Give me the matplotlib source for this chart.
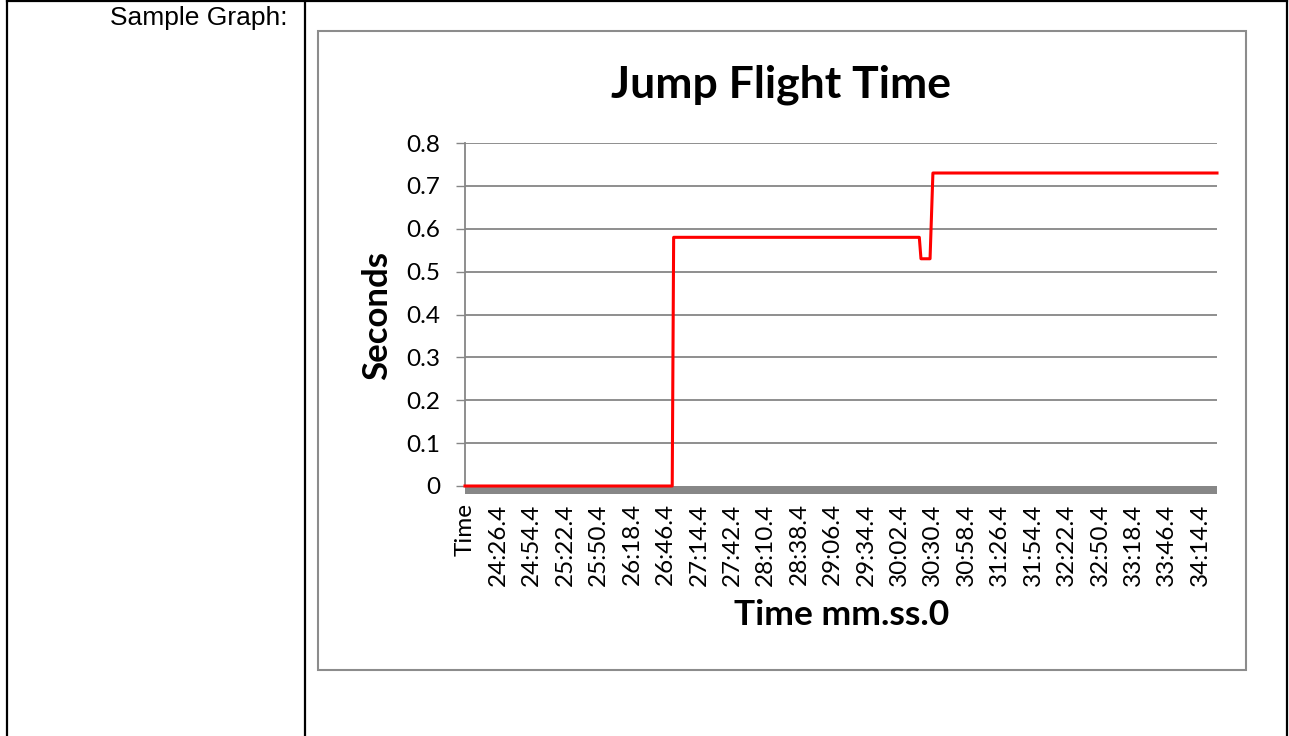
import matplotlib
matplotlib.use("Agg")
import matplotlib.pyplot as plt
from matplotlib.patches import Rectangle
from matplotlib.lines import Line2D

# x axis labels (first one is the header text that ended up as a category)
tick_labels = ["Time", "24:26.4", "24:54.4", "25:22.4", "25:50.4", "26:18.4",
               "26:46.4", "27:14.4", "27:42.4", "28:10.4", "28:38.4", "29:06.4",
               "29:34.4", "30:02.4", "30:30.4", "30:58.4", "31:26.4", "31:54.4",
               "32:22.4", "32:50.4", "33:18.4", "33:46.4", "34:14.4"]
start_time = "23:58.4"
end_time = "34:28.4"

# flight time readings (only the points where the value changes)
step_times = ["23:58.4", "26:52.0", "26:53.2", "30:19.0", "30:20.4",
              "30:28.0", "30:30.4", "34:28.4"]
step_values = [0, 0, 0.58, 0.58, 0.53, 0.53, 0.73, 0.73]

y_ticks = [0, 0.1, 0.2, 0.3, 0.4, 0.5, 0.6, 0.7, 0.8]
y_labels = ["0", "0.1", "0.2", "0.3", "0.4", "0.5", "0.6", "0.7", "0.8"]


def to_sec(s):
    m, sec = s.split(":")
    return int(m) * 60 + float(sec)


t0 = to_sec(start_time)
tick_pos = [0] + [to_sec(l) - t0 for l in tick_labels[1:]]
x = [to_sec(t) - t0 for t in step_times]

W, H = 1289, 736
fig = plt.figure(figsize=(W / 100, H / 100), dpi=100)
fig.patch.set_facecolor("white")

font = ["Lato", "DejaVu Sans"]
grey = "#868686"

# table cell lines of the document around the chart
for xp in [7, 305, 1287]:
    fig.add_artist(Line2D([xp / W, xp / W], [0, 1], color="black", lw=1.6))
fig.add_artist(Line2D([7 / W, 1287 / W], [1 - 1 / H, 1 - 1 / H], color="black", lw=1.6))
fig.text(288 / W, 1 - 18 / H, "Sample Graph:", ha="right", va="center",
         fontsize=19, family=["Liberation Sans", "DejaVu Sans"])

# chart frame
fig.add_artist(Rectangle((318 / W, 1 - 670 / H), 928 / W, 639 / H,
                         transform=fig.transFigure, fill=False,
                         edgecolor="#8c8c8c", lw=1.5))

ax = fig.add_axes([465 / W, 1 - 486 / H, 752 / W, 343 / H])
ax.plot(x, step_values, color="#ff0000", lw=2.2, zorder=4, clip_on=False)

ax.set_xlim(0, to_sec(end_time) - t0)
ax.set_ylim(0, 0.8)
ax.set_yticks(y_ticks)
ax.set_yticklabels(y_labels, family=font, fontsize=17.5)
ax.set_xticks(tick_pos)
ax.set_xticklabels(tick_labels, rotation=90, family=font, fontsize=17.5)
ax.tick_params(axis="x", length=0, pad=12.5)
ax.tick_params(axis="y", length=6.5, width=1, color=grey, pad=11.5)

for yv in y_ticks[1:]:
    ax.axhline(yv, color=grey, lw=1.3, zorder=1)

for s in ["top", "right", "bottom"]:
    ax.spines[s].set_visible(False)
ax.spines["left"].set_color(grey)
ax.spines["left"].set_linewidth(1.3)

# thick grey band under the zero line
ax.add_patch(Rectangle((0, -8 / 343), 1, 8 / 343, transform=ax.transAxes,
                       clip_on=False, facecolor="#878787", edgecolor="none", zorder=3))

fig.text(781 / W, 1 - 85 / H, "Jump Flight Time", ha="center", va="center",
         fontsize=32, fontweight="bold", family=font)
fig.text(377 / W, 1 - 315 / H, "Seconds", ha="center", va="center", rotation=90,
         fontsize=25, fontweight="bold", family=font)
fig.text(842 / W, 1 - 615 / H, "Time mm.ss.0", ha="center", va="center",
         fontsize=25.5, fontweight="bold", family=font)

fig.savefig("out.png", dpi=100)
